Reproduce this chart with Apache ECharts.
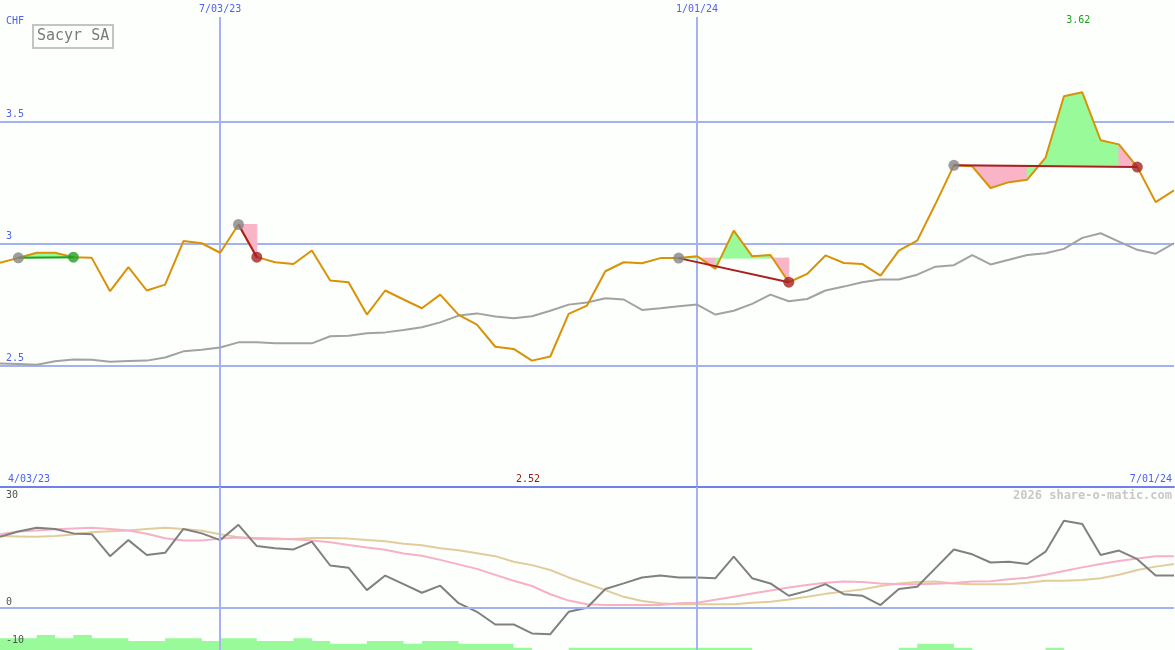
<!DOCTYPE html>
<html><head><meta charset="utf-8">
<script src="https://cdn.jsdelivr.net/npm/echarts@6/dist/echarts.min.js"></script>
<style>html,body{margin:0;padding:0;background:#fcfffc}#c{width:1175px;height:650px}</style>
</head><body><div id="c"></div>
<script>
// ---- data (weekly points, index 0..64) ----
const startLabel = '4/03/23';
const endLabel = '7/01/24';
const dateMarks = [[12, '7/03/23'], [38, '1/01/24']];
const priceTicks = [2, 4, 0.5];
const oscLabels = [-10, 0, 30];

const price = [2.921,2.941,2.962,2.962,2.944,2.941,2.804,2.903,2.807,2.831,3.010,3.001,2.962,3.078,2.944,2.923,2.916,2.971,2.848,2.841,2.708,2.807,
  2.770,2.734,2.790,2.707,2.667,2.576,2.567,2.519,2.536,2.711,2.745,2.886,2.923,2.919,2.940,2.940,2.948,2.896,3.053,2.948,2.953,2.841,
  2.875,2.951,2.920,2.916,2.868,2.971,3.012,3.163,3.321,3.317,3.228,3.252,3.262,3.353,3.605,3.621,3.424,3.407,3.314,3.170,3.218];
const avg = [2.507,2.505,2.502,2.516,2.524,2.523,2.514,2.517,2.519,2.532,2.557,2.564,2.573,2.594,2.594,2.590,2.590,2.590,2.619,2.621,2.631,2.635,
  2.645,2.656,2.676,2.704,2.713,2.700,2.693,2.701,2.724,2.749,2.758,2.775,2.770,2.727,2.734,2.742,2.749,2.708,2.724,2.752,2.790,2.763,
  2.772,2.807,2.823,2.841,2.852,2.852,2.872,2.905,2.911,2.952,2.914,2.933,2.953,2.960,2.978,3.023,3.042,3.008,2.974,2.958,3.001];
// trades: [entry index, exit index]
const trades = [[1, 4], [13, 14], [37, 43], [52, 62]];

const osc = [19.0,20.4,21.4,21.1,19.9,19.7,13.8,18.1,14.1,14.7,21.1,19.9,18.1,22.2,16.5,15.9,15.6,17.7,11.3,10.7,4.7,8.6,
  6.3,4.0,5.9,1.2,-1.1,-4.5,-4.5,-6.9,-7.1,-1.1,0,5.0,6.5,8.1,8.6,8.1,8.1,7.9,13.7,7.9,6.5,3.2,
  4.5,6.3,3.6,3.2,0.7,5.0,5.6,10.6,15.6,14.3,12.1,12.3,11.7,15.0,23.3,22.4,14.1,15.3,13.0,8.6,8.6];
const oscFast = [19.7,20.4,20.7,21.0,21.2,21.4,21.1,20.7,19.8,18.6,18.0,18.0,18.5,18.8,18.7,18.5,18.3,18.0,17.5,16.8,16.1,15.5,
  14.5,13.9,12.8,11.6,10.4,8.8,7.2,5.8,3.6,1.9,0.9,0.7,0.7,0.7,0.7,1.2,1.3,2.1,2.9,3.8,4.6,5.4,
  6.1,6.7,7.0,6.9,6.5,6.3,6.3,6.4,6.6,7.0,7.1,7.6,8.0,8.8,9.8,10.8,11.7,12.5,13.2,13.8,13.8];
const oscSlow = [19.2,19.1,19.0,19.2,19.6,20.2,20.5,20.7,21.1,21.4,21.1,20.6,19.7,18.9,18.4,18.3,18.4,18.7,18.7,18.5,18.1,17.8,
  17.1,16.7,15.9,15.4,14.6,13.8,12.3,11.4,10.1,8.1,6.4,4.7,2.9,1.8,1.2,0.9,0.9,0.9,0.9,1.3,1.6,2.2,
  2.9,3.7,4.3,4.9,5.8,6.5,6.9,7.0,6.5,6.3,6.3,6.3,6.7,7.2,7.2,7.4,7.9,8.8,10.1,11.0,11.7];
const volume = [7.2,7.2,9.2,7.2,9.2,7.2,7.2,5.5,5.5,7.2,7.2,5.5,7.2,7.2,5.5,5.5,7.2,5.5,3.9,3.9,5.5,5.5,
  3.9,5.5,5.5,3.9,3.9,3.9,1.4,0,0,1.4,1.4,1.4,1.4,1.4,1.4,1.4,1.4,1.4,1.4,0,0,0,
  0,0,0,0,0,1.4,3.9,3.9,1.4,0,0,0,0,1.4,0,0,0,0,0,0,0];

// ---- styles ----
const FONT = '"DejaVu Sans Mono", monospace';
const BLUE = '#5060f0';
const GRIDC = '#a4b2f2';
const GREENF = '#98fa98', PINKF = '#fab4c8';

const idx = a => a.map((v, i) => [i, v]);
const fills = [];
trades.forEach(([e, x]) => {
  const lvl = price[e];
  for (let i = e; i < x; i++) fills.push([i, i + 1, price[i], price[i + 1], lvl, price[i + 1] >= lvl ? 1 : 0]);
});
let maxI = 0, minI = 0;
price.forEach((v, i) => { if (v > price[maxI]) maxI = i; if (v < price[minI]) minI = i; });

const tradeLines = trades.map(([e, x]) => ({
  type: 'line', xAxisIndex: 0, yAxisIndex: 0, z: 4, symbol: 'none', silent: true,
  data: [[e, price[e]], [x, price[x]]],
  lineStyle: { width: 2, color: price[x] >= price[e] ? '#22a022' : '#a82020' }
}));

const chart = echarts.init(document.getElementById('c'), null, { renderer: 'canvas' });
chart.setOption({
  animation: false,
  backgroundColor: '#fcfffc',
  title: [
    { text: 'Sacyr SA', left: 33, top: 25, padding: [3, 4, 3, 4], borderColor: '#c4c4c4', borderWidth: 2,
      textStyle: { fontFamily: FONT, fontSize: 15, fontWeight: 'normal', color: '#7a7a7a', lineHeight: 17 } },
    { text: 'CHF', left: 6, top: 16, padding: 0, textStyle: { fontFamily: FONT, fontSize: 10, fontWeight: 'normal', color: BLUE } },
    { text: '2026 share-o-matic.com', right: 3, top: 490, padding: 0,
      textStyle: { fontFamily: FONT, fontSize: 12, fontWeight: 'bold', color: '#c8c8c8' } }
  ],
  grid: [
    { left: 0, right: 1, top: 0, height: 487 },
    { left: 0, right: 1, top: 495.7, height: 149.3 },
    { left: 0, right: 1, top: 487, height: 163 }
  ],
  xAxis: [
    { gridIndex: 0, type: 'value', min: 0, max: price.length - 1, interval: price.length - 1,
      axisLine: { show: true, onZero: false, lineStyle: { color: '#7080e8', width: 2 } },
      axisTick: { show: false }, splitLine: { show: false },
      axisLabel: { inside: true, margin: 3, color: BLUE, fontFamily: FONT, fontSize: 10,
        alignMinLabel: 'left', alignMaxLabel: 'right', padding: [0, 2, 0, 8],
        formatter: v => v === 0 ? startLabel : endLabel } },
    { gridIndex: 1, type: 'value', min: 0, max: price.length - 1, show: false },
    { gridIndex: 2, type: 'value', min: 0, max: price.length - 1, show: false }
  ],
  yAxis: [
    { gridIndex: 0, type: 'value', min: priceTicks[0], max: priceTicks[1], interval: priceTicks[2],
      axisLine: { show: false }, axisTick: { show: false },
      splitLine: { show: true, showMinLine: false, showMaxLine: false, lineStyle: { color: GRIDC, width: 2 } },
      axisLabel: { inside: true, margin: 6, verticalAlign: 'bottom', padding: [0, 0, 2, 0], showMinLabel: false, showMaxLabel: false,
        color: BLUE, fontFamily: FONT, fontSize: 10 } },
    { gridIndex: 1, type: 'value', min: -10, max: 30, interval: 10, z: 10,
      axisLine: { show: false }, axisTick: { show: false }, splitLine: { show: false },
      axisLabel: { inside: true, margin: 6, verticalAlign: 'bottom', verticalAlignMaxLabel: 'middle', padding: [0, 0, 0, 0],
        color: '#505050', fontFamily: FONT, fontSize: 10,
        formatter: v => oscLabels.includes(v) ? String(v) : '' } },
    { gridIndex: 2, type: 'value', min: 0, max: 100, show: false }
  ],
  series: [
    { type: 'custom', xAxisIndex: 0, yAxisIndex: 0, z: 1, silent: true, data: fills,
      encode: { x: [0, 1], y: [2, 3, 4] },
      renderItem: (params, api) => {
        const x0 = api.value(0), x1 = api.value(1), p0 = api.value(2), p1 = api.value(3), lv = api.value(4), up = api.value(5);
        const c = up ? GREENF : PINKF;
        return { type: 'polygon', shape: { points: [api.coord([x0, lv]), api.coord([x0, p0]), api.coord([x1, p1]), api.coord([x1, lv])] },
          style: { fill: c, stroke: c, lineWidth: 1 } };
      } },
    { type: 'line', xAxisIndex: 0, yAxisIndex: 0, z: 2, symbol: 'none', silent: true, data: idx(avg),
      lineStyle: { color: '#a2a2a2', width: 2 },
      markLine: { silent: true, symbol: 'none', z: 0,
        lineStyle: { color: GRIDC, width: 2, type: 'solid' },
        label: { show: true, position: 'end', distance: 3, formatter: '{b}', color: BLUE, fontFamily: FONT, fontSize: 10 },
        data: dateMarks.map(([i, t]) => [{ coord: [i, priceTicks[0]], name: t }, { coord: [i, 3.93] }]) } },
    { type: 'line', xAxisIndex: 0, yAxisIndex: 0, z: 3, symbol: 'none', silent: true, data: idx(price),
      lineStyle: { color: '#d99208', width: 2 },
      markPoint: { silent: true, symbol: 'circle', symbolSize: 0,
        data: [
          { coord: [maxI, 3.915], value: price[maxI].toFixed(2),
            label: { show: true, formatter: '{c}', offset: [-4, 0], color: '#20a020', fontFamily: FONT, fontSize: 10 } },
          { coord: [minI, 2.03], value: price[minI].toFixed(2),
            label: { show: true, formatter: '{c}', offset: [-4, 0], color: '#a01818', fontFamily: FONT, fontSize: 10 } }
        ] } },
    ...tradeLines,
    { type: 'scatter', xAxisIndex: 0, yAxisIndex: 0, z: 5, silent: true, symbolSize: 11,
      itemStyle: { color: '#858585' }, data: trades.map(([e]) => [e, price[e]]) },
    { type: 'scatter', xAxisIndex: 0, yAxisIndex: 0, z: 5, silent: true, symbolSize: 11,
      data: trades.map(([e, x]) => ({ value: [x, price[x]], itemStyle: { color: price[x] >= price[e] ? '#22a022' : '#a82222' } })) },
    // lower panel
    { type: 'line', xAxisIndex: 2, yAxisIndex: 2, z: 1, symbol: 'none', silent: true, step: 'end', data: idx(volume),
      lineStyle: { width: 0, color: GREENF }, areaStyle: { color: GREENF, opacity: 1, origin: 'start' },
      markLine: { silent: true, symbol: 'none', label: { show: false },
        lineStyle: { color: GRIDC, width: 2, type: 'solid' },
        data: dateMarks.map(([i]) => ({ xAxis: i })) } },
    { type: 'line', xAxisIndex: 1, yAxisIndex: 1, z: 2, symbol: 'none', silent: true, data: idx(oscSlow),
      lineStyle: { color: '#e2cc9c', width: 2 } },
    { type: 'line', xAxisIndex: 1, yAxisIndex: 1, z: 2, symbol: 'none', silent: true, data: idx(oscFast),
      lineStyle: { color: '#f8b0c8', width: 2 } },
    { type: 'line', xAxisIndex: 1, yAxisIndex: 1, z: 3, symbol: 'none', silent: true, data: idx(osc),
      lineStyle: { color: '#808080', width: 2 },
      markLine: { silent: true, symbol: 'none', label: { show: false },
        lineStyle: { color: GRIDC, width: 2, type: 'solid' }, data: [{ yAxis: 0 }] } }
  ]
});
</script></body></html>
